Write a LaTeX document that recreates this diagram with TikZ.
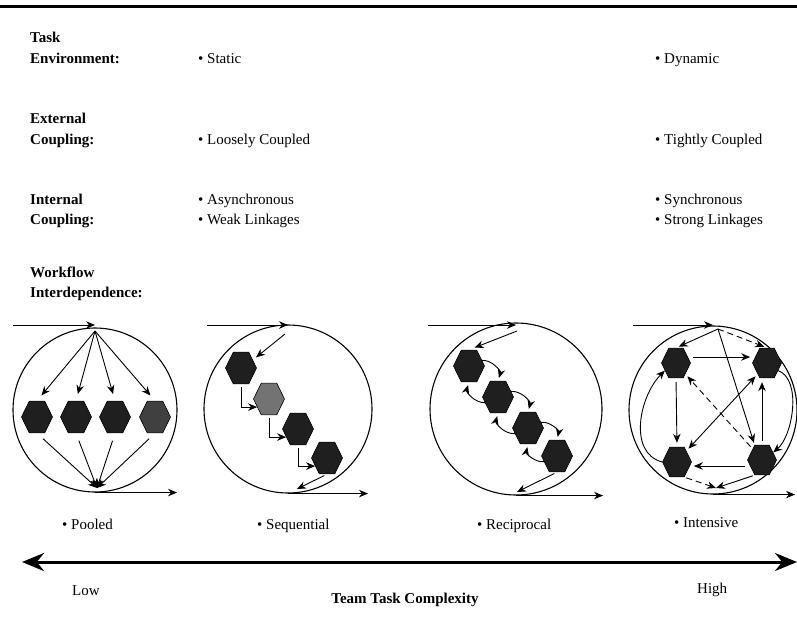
\documentclass[tikz,border=0pt]{standalone}
\usepackage{fontspec}
\setmainfont{Liberation Serif}
\usetikzlibrary{arrows.meta, positioning, shapes.geometric}
\definecolor{hexdark}{gray}{0.12}
\definecolor{hexmid}{gray}{0.25}
\definecolor{hexgray}{gray}{0.45}

\begin{document}
\begin{tikzpicture}[x=1pt, y=-1pt, >={Stealth[length=9pt, width=7.5pt]}, font=\fontsize{15}{20}\selectfont]
	\tikzset{%
		hexnode/.style={regular polygon, regular polygon sides=6, minimum size=31pt, inner sep=0pt, draw=black, line width=0.6pt, fill=hexdark, yscale=1.18, transform shape},
		ringnode/.style={circle, draw=black, line width=1.1pt, inner sep=0pt},
		lbl/.style={anchor=base west, inner sep=0pt, font=\fontsize{15}{20}\selectfont\bfseries},
		txt/.style={anchor=base west, inner sep=0pt},
		flow/.style={->, line width=0.9pt},
		dashflow/.style={flow, dash pattern=on 6pt off 4pt}
	}
	\useasboundingbox (0,0) rectangle (797,616);
	\draw[line width=3pt] (0,6.5) -- (797,6.5);
	% rows of the table
	\node[lbl] (task) at (30,42) {Task};
	\node[lbl] (env) at (30,63) {Environment:};
	\node[txt] (static) at (198,63) {\textbullet\ Static};
	\node[txt] (dynamic) at (655,63) {\textbullet\ Dynamic};
	\node[lbl] (ext) at (30,123) {External};
	\node[lbl] (ecoup) at (30,144) {Coupling:};
	\node[txt] (loose) at (198,144) {\textbullet\ Loosely Coupled};
	\node[txt] (tight) at (655,144) {\textbullet\ Tightly Coupled};
	\node[lbl] (int) at (30,204) {Internal};
	\node[lbl] (icoup) at (30,224) {Coupling:};
	\node[txt] (async) at (198,204) {\textbullet\ Asynchronous};
	\node[txt] (weak) at (198,224) {\textbullet\ Weak Linkages};
	\node[txt] (sync) at (655,204) {\textbullet\ Synchronous};
	\node[txt] (strong) at (655,224) {\textbullet\ Strong Linkages};
	\node[lbl] (work) at (30,277) {Workflow};
	\node[lbl] (interdep) at (30,297) {Interdependence:};
	% the four circles
	\node[ringnode, minimum size=164pt] (c1) at (95,410) {};
	\node[ringnode, minimum size=168pt] (c2) at (288,409) {};
	\node[ringnode, minimum size=172pt] (c3) at (516,409) {};
	\node[ringnode, minimum size=168pt] (c4) at (713,410) {};
	\foreach \k/\sx/\ex in {1/13/177, 2/207/368, 3/428/603, 4/633/795} {
		\coordinate (s\k) at (\sx,325);
		\coordinate (e\k) at (\ex,494);
		\draw[flow] (s\k) -- (s\k -| c\k.north);
		\draw[flow] (c\k.south) -- (c\k.south -| e\k);
	}
	% pooled
	\foreach \i/\x/\c in {1/37/hexdark, 2/76/hexdark, 3/115/hexdark, 4/155/hexmid}
		\node[hexnode, fill=\c] (p\i) at (\x,417) {};
	\coordinate (p0) at (95,331);
	\coordinate (p5) at (97,488);
	\foreach \i in {1,...,4} {
		\draw[flow, shorten >=7pt] (p0) -- (p\i.north);
		\draw[flow, shorten <=8pt] (p\i.south) -- (p5);
	}
	% sequential
	\foreach \i/\x/\y/\c in {1/241/368/hexdark, 2/269/399/hexgray, 3/298/429/hexdark, 4/327/458/hexdark}
		\node[hexnode, fill=\c] (q\i) at (\x,\y) {};
	\coordinate (q0) at (285,334);
	\coordinate (q5) at (297,489);
	\draw[flow, shorten >=4pt] (q0) -- (q1.30);
	\foreach \i/\j in {1/2, 2/3, 3/4}
		\draw[flow, shorten <=3pt] (q\i.south) |- (q\j.210);
	\draw[flow, shorten <=3pt] (q4.south) -- (q5);
	% reciprocal
	\foreach \i/\x/\y in {1/469/366, 2/498/397, 3/528/428, 4/557/456}
		\node[hexnode] (r\i) at (\x,\y) {};
	\coordinate (r0) at (517,331);
	\coordinate (r5) at (517,492);
	\draw[flow, shorten >=6pt] (r0) -- (r1.north);
	\foreach \i/\j in {1/2, 2/3, 3/4} {
		\draw[flow, shorten >=3pt] (r\i.20) to[bend left=55] (r\j.north);
		\draw[flow, shorten >=3pt] (r\j.200) to[bend left=55] (r\i.south);
	}
	\draw[flow, shorten <=3pt] (r4.south) -- (r5);
	% intensive
	\node[hexnode, minimum size=29pt] (i1) at (676,363) {};
	\node[hexnode, minimum size=29pt] (i2) at (767,363) {};
	\node[hexnode, minimum size=29pt] (i3) at (677,462) {};
	\node[hexnode, minimum size=29pt] (i4) at (762,460) {};
	\coordinate (i0) at (718,329);
	\coordinate (i5) at (716,488);
	\draw[flow, shorten >=3pt] (i0) -- (i1.north);
	\draw[dashflow, shorten >=3pt] (i0) -- (i2.north);
	\draw[flow, shorten >=2pt] (i0) -- (i4.120);
	\draw[flow, shorten <=2pt, shorten >=2pt] ([yshift=6pt]i1.east) -- ([yshift=6pt]i2.west);
	\draw[flow, shorten <=4pt, shorten >=4pt] (i1.south) -- (i3.north);
	\draw[flow, shorten <=4pt, shorten >=4pt] (i4.north) -- (i4.north |- i2.south);
	\draw[flow, shorten <=2pt, shorten >=2pt] ([yshift=-6pt]i4.west) -- ([yshift=-6pt]i4.west -| i3.east);
	\draw[<->, line width=0.9pt, shorten <=3pt, shorten >=3pt] (i3.45) -- (i2.225);
	\draw[dashflow, shorten <=3pt, shorten >=3pt] (i4.135) -- (i1.315);
	\draw[flow] (i3.west) to[out=165, in=225, looseness=1] (i1.210);
	\draw[flow] (i2.330) to[out=-20, in=40, looseness=0.8] (i4.30);
	\draw[dashflow, shorten <=2pt] (i3.300) -- (i5);
	\draw[flow, shorten <=2pt] (i4.240) -- (i5);
	% labels and axis
	\node[txt] (pooled) at (62,529) {\textbullet\ Pooled};
	\node[txt] (seq) at (257,529) {\textbullet\ Sequential};
	\node[txt] (recip) at (477,529) {\textbullet\ Reciprocal};
	\node[txt] (intens) at (674,527) {\textbullet\ Intensive};
	\coordinate (lowend) at (22,562);
	\coordinate (highend) at (797,562);
	\draw[{Stealth[length=22pt, width=18pt]}-{Stealth[length=22pt, width=18pt]}, line width=3pt] (lowend) -- (highend);
	\node[txt] (low) at (72,595) {Low};
	\node[txt] (high) at (697,593) {High};
	\node[lbl, anchor=base] (ttc) at (405,603) {Team Task Complexity};
\end{tikzpicture}
\end{document}
